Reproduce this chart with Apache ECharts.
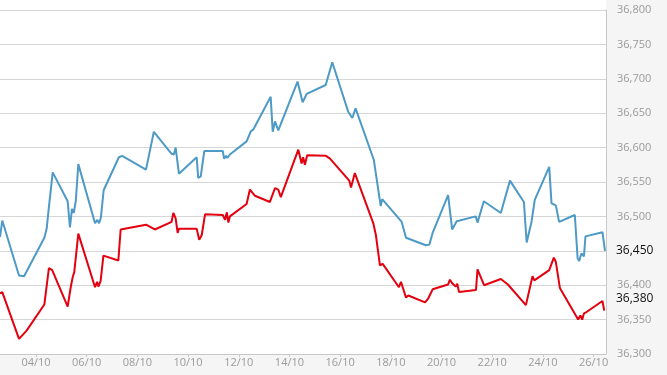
<!DOCTYPE html>
<html>
<head>
<meta charset="utf-8">
<script src="https://cdn.jsdelivr.net/npm/echarts@6/dist/echarts.min.js"></script>
<style>
html,body{margin:0;padding:0;background:#f5f5f5;}
#chart{width:667px;height:375px;}
</style>
</head>
<body>
<div id="chart"></div>
<script>
// x = day of October (fractional), y = value
const blueDays = [2.58,2.67,3.33,3.53,4.33,4.42,4.51,4.58,4.66,5.25,5.34,5.42,5.49,5.57,5.67,6.33,6.42,6.49,6.56,6.67,7.27,7.40,8.34,8.65,9.35,9.44,9.51,9.64,9.71,10.34,10.40,10.50,10.64,11.37,11.42,11.50,11.55,11.65,12.31,12.48,12.57,13.26,13.34,13.43,13.56,14.32,14.52,14.68,15.43,15.69,16.32,16.48,16.61,17.33,17.60,17.66,18.43,18.60,19.38,19.52,19.65,20.26,20.42,20.60,21.35,21.42,21.67,22.34,22.70,23.25,23.36,23.55,23.68,24.25,24.34,24.51,24.64,25.26,25.37,25.43,25.52,25.62,25.68,26.35,26.45];
const blueValues = [36470,36494,36414,36413,36469,36482,36514,36515,36564,36522,36484,36511,36505,36522,36576,36490,36495,36490,36498,36538,36586,36588,36568,36623,36591,36590,36600,36562,36564,36586,36556,36558,36595,36595,36584,36588,36585,36590,36609,36624,36626,36674,36623,36638,36625,36696,36666,36678,36691,36724,36652,36643,36657,36582,36515,36525,36492,36469,36458,36459,36476,36531,36481,36493,36500,36491,36522,36505,36552,36521,36462,36492,36524,36572,36519,36516,36492,36502,36439,36435,36446,36442,36471,36477,36450];
const redDays = [2.58,2.67,3.33,3.63,4.33,4.51,4.64,5.25,5.37,5.45,5.51,5.67,6.33,6.41,6.46,6.55,6.66,7.25,7.34,8.34,8.69,9.35,9.42,9.51,9.59,9.64,10.34,10.44,10.54,10.67,11.37,11.46,11.53,11.59,11.65,12.31,12.44,12.64,13.23,13.43,13.56,13.66,14.35,14.48,14.54,14.61,14.70,15.44,15.60,16.36,16.43,16.58,17.31,17.41,17.57,17.68,18.32,18.40,18.60,18.69,19.35,19.48,19.65,20.26,20.33,20.44,20.56,20.62,20.69,21.36,21.42,21.68,22.34,22.62,23.33,23.59,23.66,24.25,24.43,24.51,24.67,25.39,25.48,25.55,25.62,25.72,26.35,26.42];
const redValues = [36388,36390,36322,36334,36372,36425,36422,36369,36397,36412,36419,36475,36397,36405,36398,36406,36443,36436,36481,36488,36481,36492,36505,36497,36476,36482,36482,36466,36473,36503,36502,36495,36506,36491,36500,36518,36539,36530,36521,36541,36539,36528,36597,36577,36586,36575,36589,36588,36584,36552,36542,36563,36490,36473,36429,36431,36397,36405,36382,36385,36375,36381,36394,36401,36408,36402,36398,36402,36390,36393,36423,36400,36409,36401,36371,36413,36407,36422,36440,36434,36396,36350,36356,36350,36359,36361,36377,36363];
const xTickDays = [4,6,8,10,12,14,16,18,20,22,24,26];
const xTickLabels = ['04/10','06/10','08/10','10/10','12/10','14/10','16/10','18/10','20/10','22/10','24/10','26/10'];
const lastValueLabels = [36450, 36380]; // blue last, red last

const fmt = v => String(v).replace(/\B(?=(\d{3})+(?!\d))/g, ',');
const zip = (a, b) => a.map((d, i) => [d, b[i]]);

const chart = echarts.init(document.getElementById('chart'), null, {renderer: 'canvas'});
chart.setOption({
  backgroundColor: '#f5f5f5',
  animation: false,
  graphic: [{
    type: 'rect', z: -10, silent: true,
    shape: {x: 0, y: 0, width: 606, height: 354},
    style: {fill: '#ffffff'}
  }],
  grid: {left: 0, right: 61, top: 10, bottom: 21, containLabel: false},
  xAxis: {
    type: 'value', min: 2.58, max: 26.49,
    splitLine: {show: false},
    axisLine: {show: true, lineStyle: {color: '#c8c8c8', width: 1}},
    axisTick: {show: true, customValues: xTickDays, length: 3, lineStyle: {color: '#c8c8c8'}},
    axisLabel: {
      customValues: xTickDays,
      formatter: v => xTickLabels[xTickDays.indexOf(Math.round(v))] || '',
      color: '#9a9a9a', fontSize: 11, fontFamily: 'Open Sans', margin: 3
    }
  },
  yAxis: [
    {
      type: 'value', position: 'right', min: 36300, max: 36800, interval: 50,
      axisLine: {show: true, lineStyle: {color: '#c8c8c8'}},
      axisTick: {show: false},
      splitLine: {show: true, lineStyle: {color: '#d6d6d6', width: 1}},
      axisLabel: {
        color: '#9a9a9a', fontSize: 11, fontFamily: 'Open Sans', margin: 11,
        formatter: v => (lastValueLabels.indexOf(v) >= 0 ? '' : fmt(v))
      }
    },
    {
      type: 'value', position: 'right', min: 36300, max: 36800,
      axisLine: {show: false}, axisTick: {show: false}, splitLine: {show: false},
      axisLabel: {
        customValues: lastValueLabels,
        color: '#111', fontSize: 12, fontFamily: 'Open Sans', margin: 10,
        formatter: v => fmt(v)
      }
    }
  ],
  series: [
    {
      type: 'line', data: zip(blueDays, blueValues), showSymbol: false,
      lineStyle: {color: '#4d9ac6', width: 2}, itemStyle: {color: '#4d9ac6'}
    },
    {
      type: 'line', data: zip(redDays, redValues), showSymbol: false,
      lineStyle: {color: '#e3000f', width: 2}, itemStyle: {color: '#e3000f'}
    }
  ]
});
</script>
</body>
</html>
